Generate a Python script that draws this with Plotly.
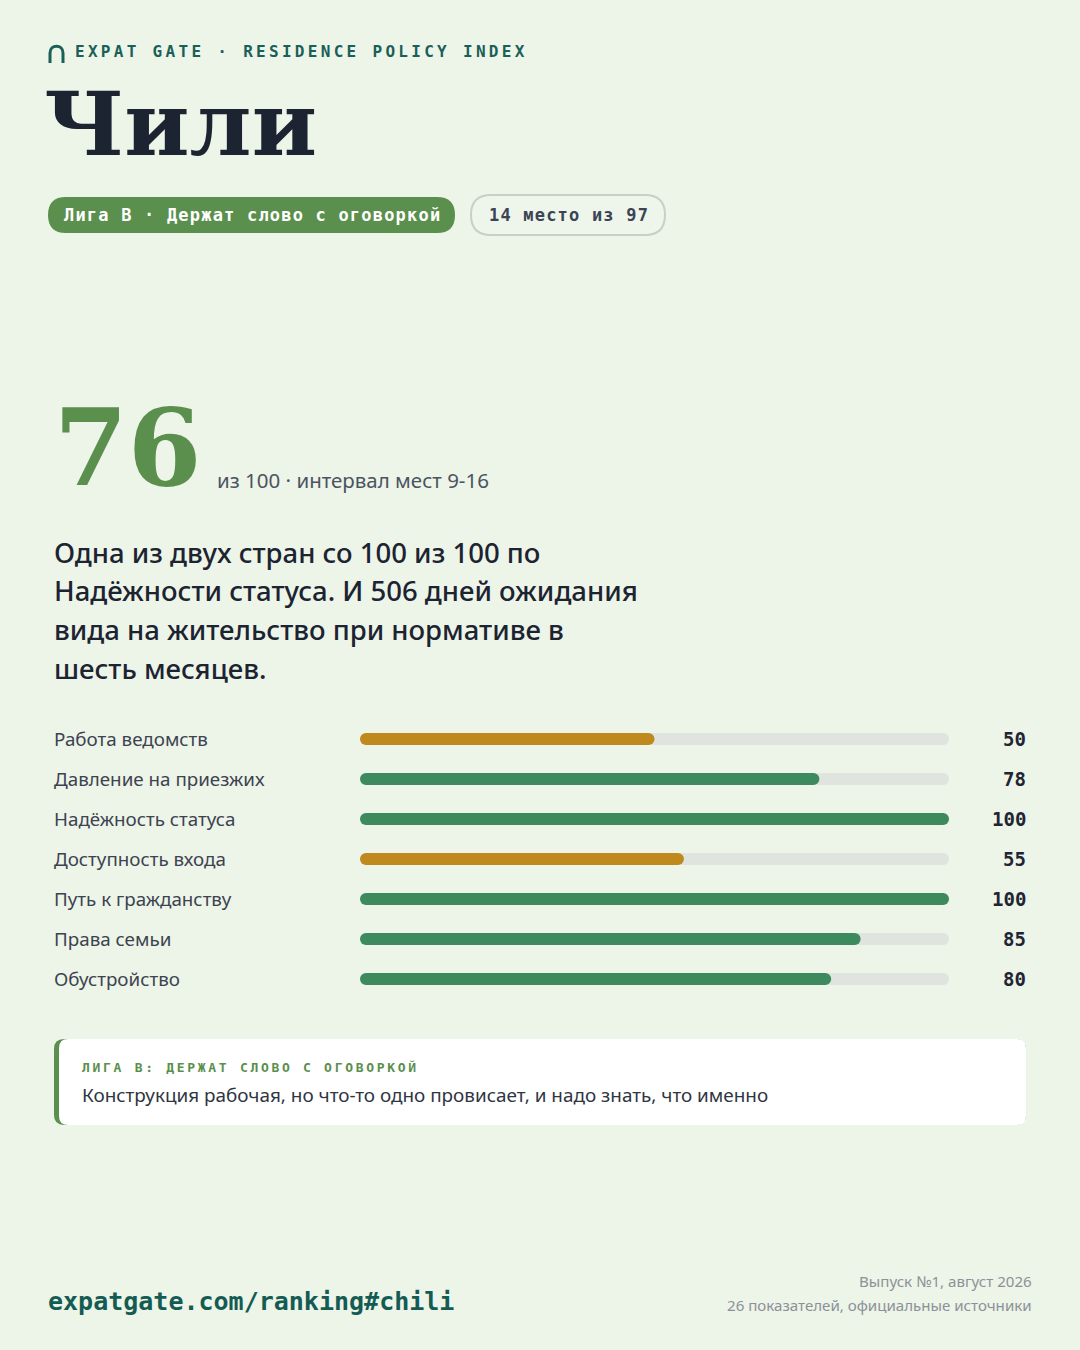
import plotly.graph_objects as go

W, H = 1080, 1350

# ---------------- data ----------------
brand = "EXPAT GATE · RESIDENCE POLICY INDEX"
country = "Чили"
league_badge = "Лига B · Держат слово с оговоркой"
rank_badge = "14 место из 97"
overall_score = 76
overall_sub = "из 100 · интервал мест 9-16"
statement_lines = [
    "Одна из двух стран со 100 из 100 по",
    "Надёжности статуса. И 506 дней ожидания",
    "вида на жительство при нормативе в",
    "шесть месяцев.",
]
categories = [
    "Работа ведомств",
    "Давление на приезжих",
    "Надёжность статуса",
    "Доступность входа",
    "Путь к гражданству",
    "Права семьи",
    "Обустройство",
]
scores = [50, 78, 100, 55, 100, 85, 80]
score_max = 100
weak_threshold = 60
callout_title = "ЛИГА B: ДЕРЖАТ СЛОВО С ОГОВОРКОЙ"
callout_body = "Конструкция рабочая, но что-то одно провисает, и надо знать, что именно"
footer_url = "expatgate.com/ranking#chili"
footer_lines = ["Выпуск №1, август 2026", "26 показателей, официальные источники"]

# ---------------- style ----------------
BG = "#edf4e8"
GREEN_BAR = "#3c8a5e"
GOLD_BAR = "#c0891e"
TRACK = "#dfe4de"
OLIVE = "#5b8f4d"
TEAL = "#145c53"
INK = "#1c2331"
SERIF = "DejaVu Serif"
SANS = "Noto Sans"
MONO = "DejaVu Sans Mono"


def X(px):
    return px / W


def Y(py):
    return 1 - py / H


def rrect(x0, y0, x1, y1, r):
    pts = [
        ("M", [(x0 + r, y0)]),
        ("L", [(x1 - r, y0)]),
        ("Q", [(x1, y0), (x1, y0 + r)]),
        ("L", [(x1, y1 - r)]),
        ("Q", [(x1, y1), (x1 - r, y1)]),
        ("L", [(x0 + r, y1)]),
        ("Q", [(x0, y1), (x0, y1 - r)]),
        ("L", [(x0, y0 + r)]),
        ("Q", [(x0, y0), (x0 + r, y0)]),
    ]
    s = ""
    for cmd, ps in pts:
        s += cmd + " " + " ".join(f"{X(a):.6f},{Y(b):.6f}" for a, b in ps) + " "
    return s + "Z"


fig = go.Figure()

# ---------------- bars ----------------
colors = [GOLD_BAR if v < weak_threshold else GREEN_BAR for v in scores]
zeros = [0] * len(categories)
fig.add_trace(go.Bar(
    y=categories, x=[score_max] * len(categories), base=zeros,
    orientation="h", width=0.3, hoverinfo="skip", showlegend=False,
    marker=dict(color=TRACK, cornerradius=6, line=dict(width=0)),
))
fig.add_trace(go.Bar(
    y=categories, x=scores, base=zeros,
    orientation="h", width=0.3, hoverinfo="skip", showlegend=False,
    marker=dict(color=colors, cornerradius=6, line=dict(width=0)),
))

fig.update_layout(
    width=W, height=H, margin=dict(l=0, r=0, t=0, b=0),
    paper_bgcolor=BG, plot_bgcolor="rgba(0,0,0,0)",
    barmode="overlay", showlegend=False,
    xaxis=dict(domain=[X(360), X(949)], range=[0, score_max], visible=False, fixedrange=True),
    yaxis=dict(domain=[Y(999), Y(719)], type="category", categoryorder="array",
               categoryarray=categories, range=[len(categories) - 0.5, -0.5],
               visible=False, fixedrange=True),
)

ann = []


def txt(x, y, text, size, color, family, weight=400, anchor="left", yref="paper", spacing=None):
    if spacing is not None:
        text = f'<span style="letter-spacing:{spacing}px">{text}</span>'
    ann.append(dict(
        x=X(x), y=(Y(y) if yref == "paper" else y), xref="paper", yref=yref,
        text=text, showarrow=False, xanchor=anchor, yanchor="middle", align=anchor,
        borderpad=0, borderwidth=0,
        font=dict(size=size, color=color, family=family, weight=weight),
    ))


# row labels & values
for cat, v in zip(categories, scores):
    txt(54, cat, cat, 18.8, "#3c4350", SANS, yref="y")
    txt(1026, cat, str(v), 19, "#1f2533", MONO, weight=700, anchor="right", yref="y")

# header
txt(75, 51, brand, 16, "#1a5f58", MONO, weight=700, spacing=3.3)
txt(44, 124, country, 88, INK, SERIF, weight=700)
txt(64, 215, league_badge, 17, "#ffffff", MONO, weight=700, spacing=1.2)
txt(489, 215, rank_badge, 17, "#3b4455", MONO, weight=700, spacing=1.2)

# score
txt(54, 447, str(overall_score), 106, OLIVE, SERIF, weight=700)
txt(217, 480, overall_sub, 20.5, "#4b5361", SANS)

# statement
for i, line in enumerate(statement_lines):
    txt(54, 552 + i * 38.7, line, 27.5, INK, SANS, weight=500)

# callout
txt(82, 1067, callout_title, 13, OLIVE, MONO, weight=700, spacing=2.7)
txt(82, 1095, callout_body, 18.9, "#2f3542", SANS)

# footer
txt(48, 1301, footer_url, 25, TEAL, MONO, weight=700)
txt(1032, 1281, footer_lines[0], 15.1, "#8c9199", SANS, anchor="right")
txt(1032, 1305, footer_lines[1], 15.1, "#8c9199", SANS, anchor="right")

fig.update_layout(annotations=ann)

shapes = [
    # logo arch
    dict(type="path", xref="paper", yref="paper",
         path=f"M {X(50)},{Y(63)} L {X(50)},{Y(53)} C {X(50)},{Y(44)} {X(63)},{Y(44)} {X(63)},{Y(53)} L {X(63)},{Y(63)}",
         line=dict(color="#1a5f58", width=3), layer="below"),
    # badges
    dict(type="path", xref="paper", yref="paper", path=rrect(48, 197, 455, 233, 18),
         fillcolor=OLIVE, line=dict(width=0), layer="below"),
    dict(type="path", xref="paper", yref="paper", path=rrect(471, 195, 665, 235, 20),
         fillcolor="#eef5ea", line=dict(color="#c9cfc7", width=2), layer="below"),
    # callout box
    dict(type="path", xref="paper", yref="paper", path=rrect(54, 1039, 1026, 1125, 10),
         fillcolor=OLIVE, line=dict(width=0), layer="below"),
    dict(type="path", xref="paper", yref="paper", path=rrect(59, 1039, 1026, 1125, 9),
         fillcolor="#ffffff", line=dict(width=0), layer="below"),
]
fig.update_layout(shapes=shapes)

fig.write_html("out.html", config={"displayModeBar": False},
               post_script="document.body.style.margin='0';")
